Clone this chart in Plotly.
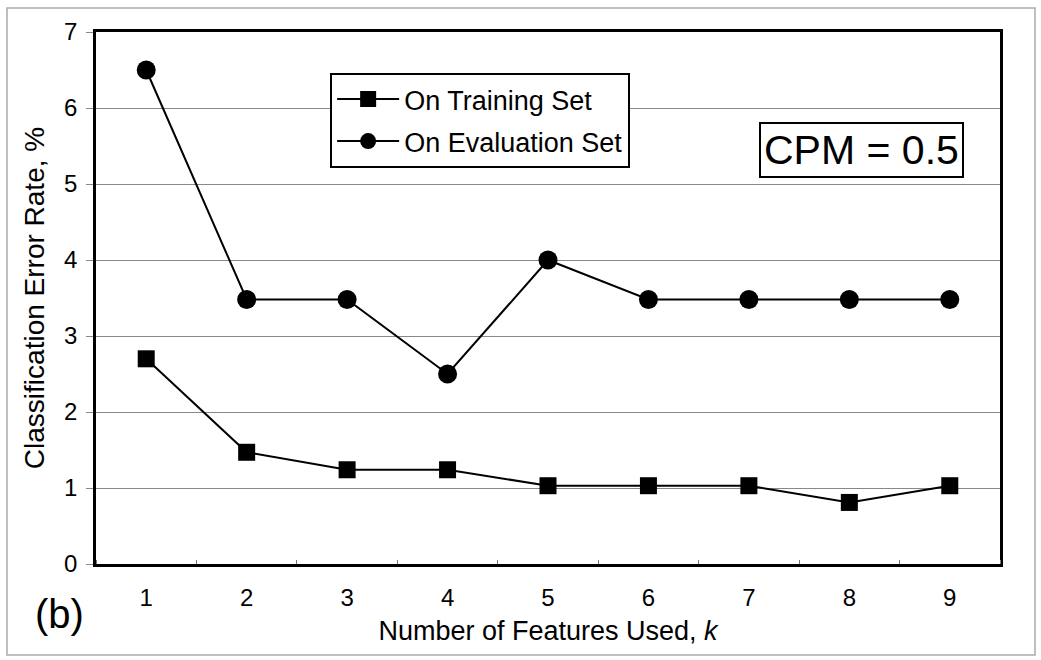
import plotly.graph_objects as go

k_values = [1, 2, 3, 4, 5, 6, 7, 8, 9]
training_error = [2.7, 1.47, 1.24, 1.24, 1.03, 1.03, 1.03, 0.81, 1.03]
evaluation_error = [6.5, 3.48, 3.48, 2.5, 4.0, 3.48, 3.48, 3.48, 3.48]
y_ticks = [0, 1, 2, 3, 4, 5, 6, 7]

font_family = "Liberation Sans, Arial, sans-serif"

fig = go.Figure()
fig.add_trace(go.Scatter(
    x=k_values, y=training_error, name="On Training Set",
    mode="lines+markers", legendgroup="train",
    line=dict(color="black", width=2),
    marker=dict(symbol="square", size=17, color="black"),
))
fig.add_trace(go.Scatter(
    x=k_values, y=evaluation_error, name="On Evaluation Set",
    mode="lines+markers", legendgroup="eval",
    line=dict(color="black", width=2),
    marker=dict(symbol="circle", size=19, color="black"),
))

fig.update_layout(
    width=1041, height=660,
    margin=dict(l=96, r=41, t=32, b=96),
    paper_bgcolor="white", plot_bgcolor="white",
    font=dict(family=font_family, size=21, color="black"),
    showlegend=True,
    legend=dict(
        x=0.259, y=0.923, xanchor="left", yanchor="top",
        bordercolor="black", borderwidth=2, bgcolor="white",
        font=dict(size=27, family=font_family),
        traceorder="grouped", tracegroupgap=4, itemwidth=62,
    ),
    xaxis=dict(
        range=[0.5, 9.5], tickvals=k_values, ticks="",
        showgrid=False, zeroline=False,
        showline=True, linecolor="black", linewidth=2.5, mirror=True,
        tickfont=dict(size=24), ticklabelstandoff=10,
        minor=dict(tick0=0.5, dtick=1, ticks="inside", ticklen=4, tickcolor="#777777", showgrid=False),
        title=dict(text="Number of Features Used, <i>k</i>", font=dict(size=27), standoff=12),
    ),
    yaxis=dict(
        range=[0, 7], tickvals=y_ticks, ticks="outside", ticklen=7, tickcolor="#888888",
        showgrid=True, gridcolor="#888888", gridwidth=1.2, zeroline=False,
        showline=True, linecolor="black", linewidth=2.5, mirror=True,
        tickfont=dict(size=24), ticklabelstandoff=4,
        title=dict(text="Classification Error Rate, %", font=dict(size=28), standoff=12),
    ),
)

fig.add_annotation(
    text="CPM = 0.5", xref="paper", yref="paper",
    x=(861 - 96) / 904, y=(564 - 150) / 532, xanchor="center", yanchor="middle",
    showarrow=False, font=dict(size=41, family=font_family),
    bordercolor="black", borderwidth=2, borderpad=3, bgcolor="white",
)
fig.add_annotation(
    text="(b)", xref="paper", yref="paper",
    x=(33 - 96) / 904, y=(564 - 614) / 532, xanchor="left", yanchor="middle",
    showarrow=False, font=dict(size=40, family=font_family),
)
fig.add_shape(
    type="rect", xref="paper", yref="paper",
    x0=(7 - 96) / 904, x1=(1035 - 96) / 904,
    y0=(564 - 655) / 532, y1=(564 - 8) / 532,
    line=dict(color="#aaaaaa", width=1.5),
)

fig.write_html("out.html")
